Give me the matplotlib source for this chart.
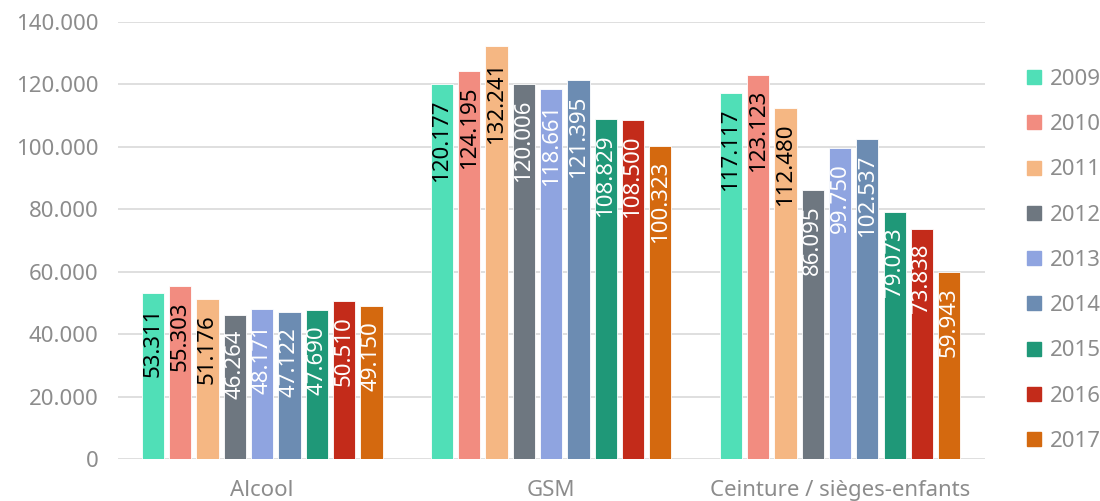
import numpy as np
import matplotlib
matplotlib.use("Agg")
import matplotlib.pyplot as plt
from matplotlib.lines import Line2D

plt.rcParams['font.family'] = ['Noto Sans', 'DejaVu Sans']

# Data
categories = ["Alcool", "GSM", "Ceinture / sièges-enfants"]
years = ["2009", "2010", "2011", "2012", "2013", "2014", "2015", "2016", "2017"]
alcool = [53311, 55303, 51176, 46264, 48171, 47122, 47690, 50510, 49150]
gsm = [120177, 124195, 132241, 120006, 118661, 121395, 108829, 108500, 100323]
ceinture = [117117, 123123, 112480, 86095, 99750, 102537, 79073, 73838, 59943]

colors = ["#50dfb7", "#f28c80", "#f5b783", "#6e7780", "#8fa4e0",
          "#6c8cb2", "#1f9878", "#c32b1a", "#d4690f"]
label_colors = ["black", "black", "black", "white", "white",
                "white", "white", "white", "white"]

values = np.array([alcool, gsm, ceinture])  # shape (3 categories, 9 years)

fig = plt.figure(figsize=(11, 5.01), dpi=100)
ax = fig.add_axes([0.107, 0.084, 0.788, 0.872])

x = np.arange(len(categories))
step = 0.0945
width = 0.077
grey = "#8c8c8c"

for i, year in enumerate(years):
    pos = x + (i - 4) * step
    bars = ax.bar(pos, values[:, i], width=width, color=colors[i],
                  edgecolor="white", linewidth=0.6, zorder=3, label=year)
    for b, v in zip(bars, values[:, i]):
        ax.annotate(f"{v:,}".replace(",", "."),
                    xy=(b.get_x() + b.get_width() / 2, v),
                    xytext=(0, -11), textcoords="offset points",
                    rotation=90, ha="center", va="top",
                    fontsize=16, color=label_colors[i], zorder=4)

ax.set_xlim(-0.5, 2.5)
ax.set_ylim(0, 140000)
ax.set_yticks(np.arange(0, 140001, 20000))
ax.set_yticklabels(["0"] + [f"{int(t/1000)}.000" for t in np.arange(20000, 140001, 20000)])
ax.set_xticks(x)
ax.set_xticklabels(categories)
ax.tick_params(axis="both", length=0, labelsize=16, labelcolor=grey)
ax.tick_params(axis="y", pad=14)
ax.tick_params(axis="x", pad=15)
ax.grid(axis="y", color="#d9d9d9", linewidth=1.2, zorder=0)
for s in ax.spines.values():
    s.set_visible(False)

handles = [Line2D([], [], marker="s", linestyle="none", markersize=10,
                  markerfacecolor=c, markeredgecolor=c) for c in colors]
fig.legend(handles, years, loc="upper left", bbox_to_anchor=(0.924, 0.88),
           frameon=False, fontsize=16, labelcolor=grey, handlelength=0.8,
           handletextpad=0.3, labelspacing=1.09, borderaxespad=0)

fig.savefig("out.png", dpi=100)
